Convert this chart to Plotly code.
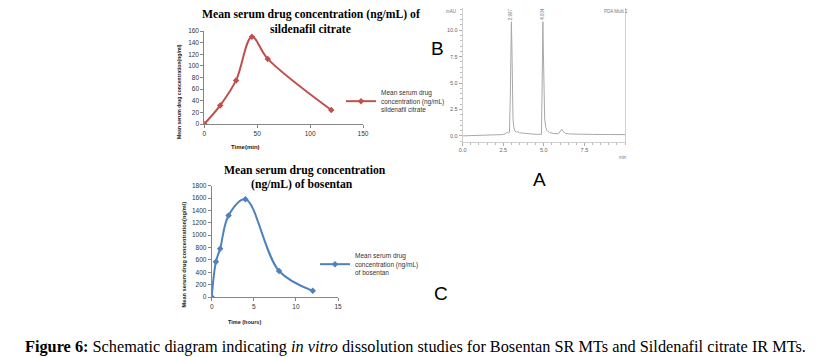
import plotly.graph_objects as go

# page body has an 8px margin, so the figure is drawn 8px in from the window corner
OFF = 8
W, H = 815, 349

# ---- data ----
sil_time = [0, 15, 30, 45, 60, 120]
sil_conc = [0, 32, 75, 150, 112, 24]

bos_time = [0, 0.5, 1, 2, 4, 8, 12]
bos_conc = [0, 570, 780, 1320, 1580, 420, 100]

chrom_time = [0.0, 0.5, 1.0, 1.5, 2.0, 2.4, 2.6, 2.75, 2.82, 2.88, 2.93, 2.97, 3.0, 3.03, 3.06, 3.1, 3.15, 3.22, 3.3, 3.36, 3.5,
              3.8, 4.2, 4.6, 4.8, 4.85, 4.88, 4.91, 4.94, 4.97, 5.0, 5.05, 5.12, 5.2, 5.35, 5.6, 5.9, 6.02, 6.1, 6.2, 6.35,
              6.6, 7.0, 8.0, 9.0, 10.0]
chrom_mau = [0.0, 0.02, 0.04, 0.06, 0.09, 0.12, 0.18, 0.35, 0.25, 0.3, 3.5, 9.0, 10.8, 8.5, 4.0, 1.6, 0.8, 0.45, 0.35, 0.4, 0.3,
             0.22, 0.18, 0.15, 0.12, 0.15, 3.0, 9.5, 10.8, 8.0, 3.8, 1.6, 0.8, 0.5, 0.32, 0.22, 0.2, 0.45, 0.62, 0.4, 0.22,
             0.18, 0.16, 0.14, 0.13, 0.12]
peak_times = [2.997, 4.934]
peak_labels = ["2.997", "4.934"]

sil_yticks = list(range(0, 161, 20))
sil_xticks = [0, 50, 100, 150]
bos_yticks = list(range(0, 1801, 200))
bos_xticks = [0, 5, 10, 15]
chrom_xticks = [0.0, 2.5, 5.0, 7.5]
chrom_xtick_text = ["0.0", "2.5", "5.0", "7.5"]
chrom_yticks = [0.0, 2.5, 5.0, 7.5, 10.0]
chrom_ytick_text = ["0.0", "2.5", "5.0", "7.5", "10.0"]

RED = "#C0504D"
BLUE = "#4F81BD"
AX = "#868686"


def px(x):
    return min(max((x - OFF) / W, 0.0), 1.0)


def py(y):
    return min(max(1 - (y - OFF) / H, 0.0), 1.0)


fig = go.Figure()

fig.add_trace(go.Scatter(
    x=sil_time, y=sil_conc, mode="lines+markers", xaxis="x", yaxis="y",
    line=dict(color=RED, width=2, shape="spline", smoothing=1.0),
    marker=dict(symbol="diamond", size=5, color=RED),
    name="Mean serum drug<br>concentration (ng/mL)<br>sildenafil citrate", legend="legend"))

fig.add_trace(go.Scatter(
    x=bos_time, y=bos_conc, mode="lines+markers", xaxis="x2", yaxis="y2",
    line=dict(color=BLUE, width=2, shape="spline", smoothing=1.0),
    marker=dict(symbol="diamond", size=5, color=BLUE),
    name="Mean serum drug<br>concentration (ng/mL)<br>of bosentan", legend="legend2"))

fig.add_trace(go.Scatter(
    x=chrom_time, y=chrom_mau, mode="lines", xaxis="x3", yaxis="y3",
    line=dict(color="#a8a8a8", width=1), showlegend=False))

tickf = dict(family="Liberation Sans", size=6.5, color="#333")
excel_axis = dict(showline=True, linecolor=AX, linewidth=1, ticks="outside", ticklen=3,
                  tickcolor=AX, showgrid=False, zeroline=False, tickfont=tickf, automargin=False)
chrom_axis = dict(showline=True, mirror=True, linecolor="#cfcfcf", ticks="outside", ticklen=3,
                  tickcolor="#aaa", showgrid=False, zeroline=False, automargin=False,
                  tickfont=dict(family="Liberation Sans", size=5.5, color="#666"),
                  minor=dict(ticks="outside", dtick=0.5, ticklen=2, tickcolor="#bbb"))

legf = dict(family="Liberation Sans", size=6.5, color="#333")

fig.update_layout(
    template="none",
    width=W, height=H, autosize=False,
    margin=dict(l=0, r=0, t=0, b=0, pad=0),
    paper_bgcolor="white", plot_bgcolor="white",
    xaxis=dict(domain=[px(204.3), px(363)], range=[0, 150], tickvals=sil_xticks, anchor="y", **excel_axis),
    yaxis=dict(domain=[py(124), py(31)], range=[0, 160], tickvals=sil_yticks, anchor="x", **excel_axis),
    xaxis2=dict(domain=[px(211.7), px(338)], range=[0, 15], tickvals=bos_xticks, anchor="y2", **excel_axis),
    yaxis2=dict(domain=[py(297), py(185.7)], range=[0, 1800], tickvals=bos_yticks, anchor="x2", **excel_axis),
    xaxis3=dict(domain=[px(462.7), px(625)], range=[0, 10], tickvals=chrom_xticks, ticktext=chrom_xtick_text,
                anchor="y3", **chrom_axis),
    yaxis3=dict(domain=[py(141.7), py(8)], range=[-0.55, 12.1], tickvals=chrom_yticks, ticktext=chrom_ytick_text,
                anchor="x3", **chrom_axis),
    legend=dict(x=px(341), y=py(82), xanchor="left", yanchor="top", bgcolor="rgba(0,0,0,0)",
                font=legf, itemwidth=30, tracegroupgap=0, borderwidth=0),
    legend2=dict(x=px(315), y=py(245), xanchor="left", yanchor="top", bgcolor="rgba(0,0,0,0)",
                 font=legf, itemwidth=30, tracegroupgap=0, borderwidth=0),
)

ann = []
serif_b = dict(family="Liberation Serif", size=11.7, color="black")
ann.append(dict(x=px(311), y=py(15), text="<b>Mean serum drug concentration (ng/mL) of</b>", font=serif_b))
ann.append(dict(x=px(310), y=py(29.5), text="<b>sildenafil citrate</b>", font=serif_b))
ann.append(dict(x=px(305), y=py(170), text="<b>Mean serum drug concentration</b>", font=serif_b))
ann.append(dict(x=px(302), y=py(184), text="<b>(ng/mL) of bosentan</b>", font=serif_b))

ann.append(dict(x=px(179), y=py(92), text="<b>Mean serum drug concentration(ng/ml)</b>", textangle=-90,
                font=dict(family="Liberation Sans", size=5.1, color="#222")))
ann.append(dict(x=px(183.5), y=py(255), text="<b>Mean serum drug concentration(ng/ml)</b>", textangle=-90,
                font=dict(family="Liberation Sans", size=5.7, color="#222")))
lblf = dict(family="Liberation Sans", size=6, color="#222")
ann.append(dict(x=px(245), y=py(146.5), text="<b>Time(min)</b>", font=lblf))
ann.append(dict(x=px(244), y=py(322), text="<b>Time (hours)</b>", font=dict(family="Liberation Sans", size=5.5, color="#222")))

big = dict(family="Liberation Sans", size=19, color="black")
ann.append(dict(x=px(438), y=py(48.5), text="B", font=big))
ann.append(dict(x=px(539), y=py(179.5), text="A", font=big))
ann.append(dict(x=px(440.5), y=py(293.5), text="C", font=big))

tiny = dict(family="Liberation Sans", size=4.5, color="#777")
ann.append(dict(x=px(451), y=py(12), text="mAU", font=tiny))
ann.append(dict(x=px(616), y=py(12), text="PDA Multi 1", font=tiny))
ann.append(dict(x=px(623), y=py(157), text="min", font=tiny))
for t, lab in zip(peak_times, peak_labels):
    ann.append(dict(x=t, xref="x3", y=py(14), yref="paper", text=lab, textangle=-90, font=tiny))

ann.append(dict(x=px(415), y=py(346.5),
                text="<b>Figure 6:</b> Schematic diagram indicating <i>in vitro</i> dissolution studies for Bosentan SR MTs and Sildenafil citrate IR MTs.",
                font=dict(family="Liberation Serif", size=16.3, color="black")))

for a in ann:
    a.setdefault("xref", "paper")
    a.setdefault("yref", "paper")
    a["xanchor"] = "center"
    a["yanchor"] = "middle"
    a["showarrow"] = False
    fig.add_annotation(**a)

fig.write_html("out.html")
